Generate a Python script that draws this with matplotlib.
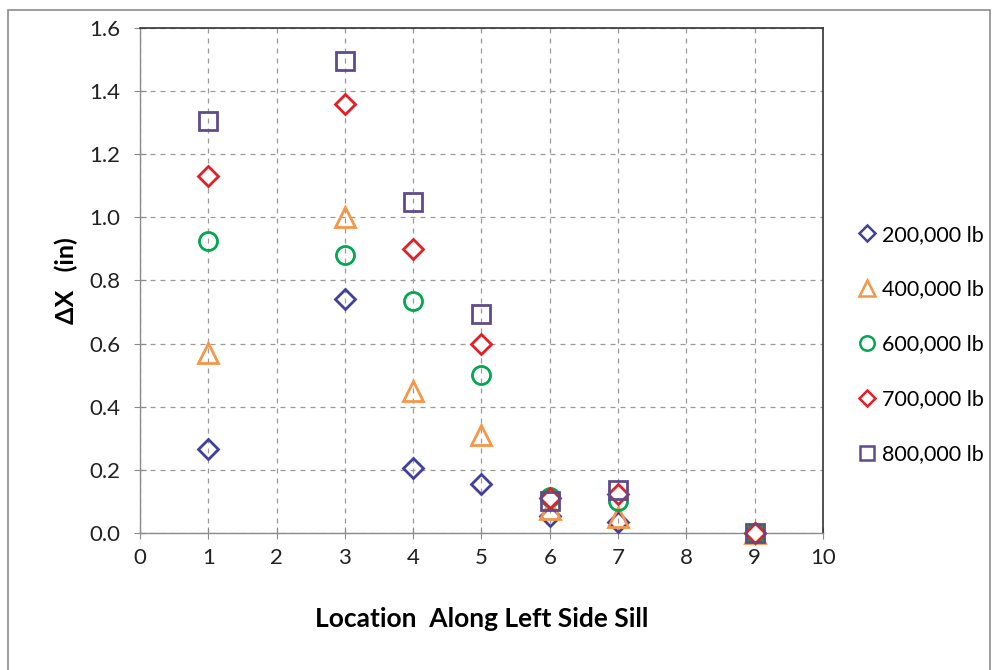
import matplotlib.pyplot as plt
from matplotlib.patches import Rectangle

plt.rcParams['font.family'] = ['Lato', 'DejaVu Sans']

locations = [1, 3, 4, 5, 6, 7, 9]
dx_200k = [0.265, 0.74, 0.205, 0.155, 0.055, 0.035, 0.0]
dx_400k = [0.57, 1.0, 0.45, 0.31, 0.075, 0.05, 0.0]
dx_600k = [0.925, 0.88, 0.735, 0.50, 0.115, 0.10, 0.0]
dx_700k = [1.13, 1.36, 0.90, 0.60, 0.11, 0.125, 0.0]
dx_800k = [1.305, 1.495, 1.05, 0.695, 0.10, 0.135, 0.0]

# label, values, marker, colour, size, face
series = [
    ('200,000 lb', dx_200k, 'D', '#4040A0', 10, 'none'),
    ('400,000 lb', dx_400k, '^', '#F79646', 14, 'none'),
    ('600,000 lb', dx_600k, 'o', '#00A850', 13, 'none'),
    ('700,000 lb', dx_700k, 'D', '#E41E26', 10, 'white'),
    ('800,000 lb', dx_800k, 's', '#5F4B8B', 13, 'none'),
]

fig = plt.figure(figsize=(9.92, 6.70), dpi=100)
ax = fig.add_axes([0.1411, 0.2045, 0.6885, 0.7537])

for label, vals, mk, col, ms, face in series:
    ax.plot(locations, vals, linestyle='none', marker=mk, markersize=ms,
            markerfacecolor=face, markeredgecolor=col, markeredgewidth=2,
            label=label, clip_on=False, zorder=3)

ax.set_xlim(0, 10)
ax.set_ylim(0, 1.6)
ax.set_xticks(range(0, 11))
ax.set_yticks([0.0, 0.2, 0.4, 0.6, 0.8, 1.0, 1.2, 1.4, 1.6])
ax.set_yticklabels([f'{v:.1f}' for v in ax.get_yticks()])
ax.grid(True, linestyle=(0, (4, 4)), color='#9a9a9a', linewidth=0.9)
ax.set_axisbelow(True)

for side in ['top', 'right']:
    ax.spines[side].set_color('#333333')
    ax.spines[side].set_linewidth(1.2)
for side in ['left', 'bottom']:
    ax.spines[side].set_color('#8c8c8c')
    ax.spines[side].set_linewidth(1.0)

ax.tick_params(axis='both', direction='inout', length=8, color='#8c8c8c',
               labelsize=16, labelcolor='#222222')
ax.tick_params(axis='x', pad=7)
ax.tick_params(axis='y', pad=10)

ax.set_xlabel('Location  Along Left Side Sill', fontsize=19, fontweight='bold',
              labelpad=28)
ax.set_ylabel('ΔX   (in)', fontsize=18, fontweight='bold', labelpad=8)

legend_handles = []
for label, vals, mk, col, ms, face in series:
    h, = ax.plot([], [], linestyle='none', marker=mk, markersize=ms * 0.8,
                 markerfacecolor='none', markeredgecolor=col, markeredgewidth=1.8,
                 label=label)
    legend_handles.append(h)
fig.legend(handles=legend_handles, loc='center left', bbox_to_anchor=(0.857, 0.486),
           frameon=False, fontsize=15.5, labelspacing=1.62, handlelength=0.8,
           handletextpad=0.3, borderaxespad=0)

# outer frame of the chart area
fig.patches.append(Rectangle((0.008, -0.01), 0.99, 0.995, transform=fig.transFigure,
                             fill=False, edgecolor='#8c8c8c', linewidth=1.2))

fig.savefig('out.png', dpi=100)
